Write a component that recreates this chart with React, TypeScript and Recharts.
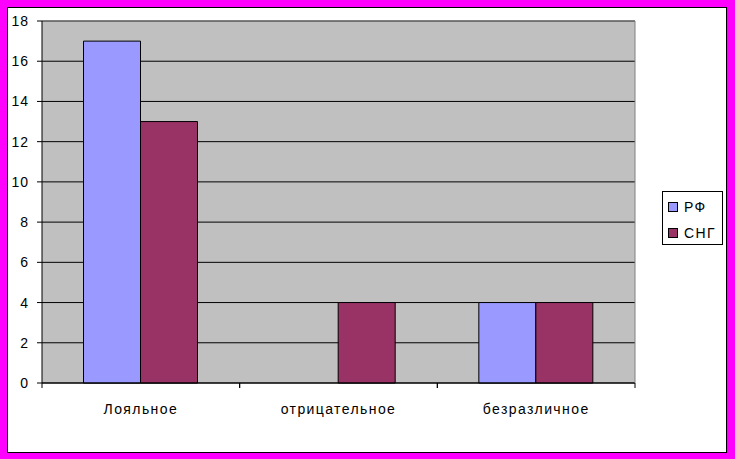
import { BarChart, Bar, XAxis, YAxis, CartesianGrid, ReferenceLine } from 'recharts';

const categories = ['Лояльное', 'отрицательное', 'безразличное'];
const rfValues = [17, 0, 4];
const cisValues = [13, 4, 4];
const yTicks = [0, 2, 4, 6, 8, 10, 12, 14, 16, 18];
const seriesNames = ['РФ', 'СНГ'];
const seriesColors = ['#9999FF', '#993366'];

const data = categories.map((name, i) => ({ name, rf: rfValues[i], cis: cisValues[i] }));

const W = 735;
const H = 459;
const margin = { top: 21, right: 99, bottom: 46, left: 12 };
const yAxisWidth = 30;
const plotWidth = W - margin.left - margin.right - yAxisWidth - 1;
const band = plotWidth / categories.length;
const font = '"Liberation Sans", Arial, sans-serif';

function CategoryTick(props: any) {
  const { x, y, payload } = props;
  return (
    <g>
      <line x1={x - band / 2} y1={y} x2={x - band / 2} y2={y + 5} stroke="#000" />
      <line x1={x + band / 2} y1={y} x2={x + band / 2} y2={y + 5} stroke="#000" />
      <text
        x={x}
        y={y + 31}
        textAnchor="middle"
        fontSize={14}
        letterSpacing={1.4}
        fontFamily={font}
        fill="#000"
      >
        {payload.value}
      </text>
    </g>
  );
}

export default function App() {
  return (
    <div style={{ position: 'relative', width: W, height: H, background: '#FF00FF' }}>
      <style>{'body{margin:0}'}</style>
      <div
        style={{
          position: 'absolute',
          left: 7,
          top: 7,
          width: 718,
          height: 444,
          background: '#fff',
          border: '1px solid #000',
        }}
      />
      <div style={{ position: 'absolute', left: 0, top: 0 }}>
        <BarChart width={W} height={H} data={data} margin={margin} barCategoryGap="21%" barGap={0}>
          <CartesianGrid yAxisId="l" vertical={false} fill="#C0C0C0" stroke="#000" strokeOpacity={1} fillOpacity={1} />
          <XAxis
            dataKey="name"
            stroke="#000"
            tickLine={false}
            tickSize={0}
            tickMargin={0}
            tick={<CategoryTick />}
            height={30}
            interval={0}
          />
          <YAxis
            yAxisId="l"
            domain={[0, 18]}
            ticks={yTicks}
            width={yAxisWidth}
            stroke="#000"
            tickSize={5}
            tickMargin={8}
            tick={{ fill: '#000', fontSize: 14, fontFamily: font, letterSpacing: 1 }}
          />
          <YAxis
            yAxisId="r"
            orientation="right"
            domain={[0, 18]}
            width={1}
            tick={false}
            tickLine={false}
            axisLine={{ stroke: '#808080' }}
          />
          <ReferenceLine yAxisId="l" y={18} stroke="#808080" />
          <Bar yAxisId="l" dataKey="rf" name={seriesNames[0]} fill={seriesColors[0]} stroke="#000" isAnimationActive={false} />
          <Bar yAxisId="l" dataKey="cis" name={seriesNames[1]} fill={seriesColors[1]} stroke="#000" isAnimationActive={false} />
        </BarChart>
      </div>
      <div
        style={{
          position: 'absolute',
          left: 662,
          top: 191,
          width: 59,
          height: 52,
          background: '#fff',
          border: '1px solid #000',
          fontFamily: font,
          fontSize: 14,
          letterSpacing: 1.4,
        }}
      >
        {seriesNames.map((n, i) => (
          <div key={n} style={{ position: 'absolute', left: 5, top: 7 + i * 26, display: 'flex', alignItems: 'center' }}>
            <span
              style={{
                display: 'inline-block',
                width: 8,
                height: 8,
                background: seriesColors[i],
                border: '1px solid #000',
                marginRight: 6,
              }}
            />
            <span style={{ lineHeight: '16px' }}>{n}</span>
          </div>
        ))}
      </div>
    </div>
  );
}
